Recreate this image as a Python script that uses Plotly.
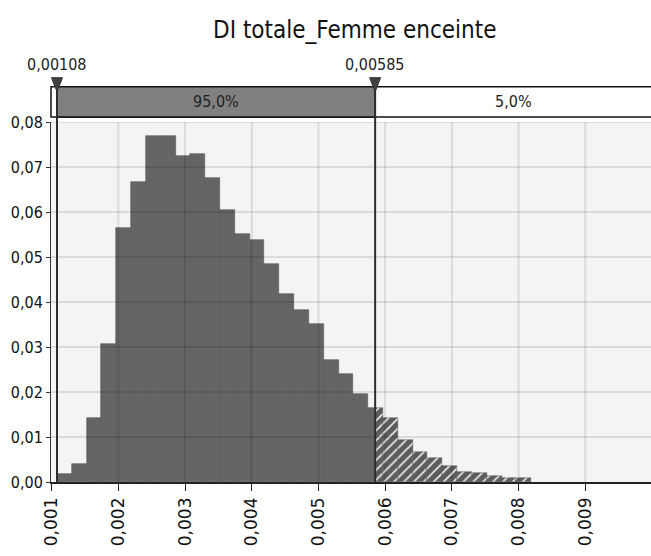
import numpy as np
import plotly.graph_objects as go

# histogram data (relative frequency per bin)
bin_min = 0.00108
bin_max = 0.00819
freq = [0.0018, 0.0040, 0.0142, 0.0307, 0.0564, 0.0667, 0.0769, 0.0769,
        0.0724, 0.0729, 0.0676, 0.0604, 0.0551, 0.0538, 0.0484, 0.0418,
        0.0382, 0.0351, 0.0271, 0.0240, 0.0196, 0.0164, 0.0142, 0.0093,
        0.0067, 0.0053, 0.0036, 0.0022, 0.0021, 0.0013, 0.0009, 0.0008]

p_low = 0.00108
p_high = 0.00585
p_low_label = "0,00108"
p_high_label = "0,00585"
band_labels = ["95,0%", "5,0%"]

x_ticks = [0.001, 0.002, 0.003, 0.004, 0.005, 0.006, 0.007, 0.008, 0.009]
y_ticks = [0.0, 0.01, 0.02, 0.03, 0.04, 0.05, 0.06, 0.07, 0.08]

x_range = [0.00099, 0.009986]
title = "DI totale_Femme enceinte"

edges = np.linspace(bin_min, bin_max, len(freq) + 1)

# split bins at the upper cut-off
sx, sw, sy, hx, hw, hy = [], [], [], [], [], []
for i, v in enumerate(freq):
    lo, hi = edges[i], edges[i + 1]
    if lo < p_high:
        r = min(hi, p_high)
        sx.append((lo + r) / 2); sw.append(r - lo); sy.append(v)
    if hi > p_high:
        l = max(lo, p_high)
        hx.append((l + hi) / 2); hw.append(hi - l); hy.append(v)

NARROW = "DejaVu Sans Condensed, sans-serif"

fig = go.Figure()
fig.add_trace(go.Bar(x=sx, y=sy, width=sw,
                     marker=dict(color="#656565", line=dict(color="#575757", width=0.6)),
                     showlegend=False, hoverinfo="skip"))
fig.add_trace(go.Bar(x=hx, y=hy, width=hw,
                     marker=dict(color="#5c5c5c", line=dict(color="#555555", width=0.5),
                                 pattern=dict(shape="/", fgcolor="white", bgcolor="#5c5c5c",
                                              size=7, solidity=0.22)),
                     showlegend=False, hoverinfo="skip"))

band_bot = 1.014
band_top = 1.098
shapes = []
# grid drawn above bars
for v in y_ticks[1:]:
    shapes.append(dict(type="line", xref="x domain", yref="y", x0=0, x1=1, y0=v, y1=v,
                       line=dict(color="rgba(0,0,0,0.1)", width=2), layer="above"))
for v in x_ticks[1:]:
    shapes.append(dict(type="line", xref="x", yref="y domain", x0=v, x1=v, y0=0, y1=1,
                       line=dict(color="rgba(0,0,0,0.1)", width=2), layer="above"))
# band
shapes.append(dict(type="rect", xref="x domain", yref="y domain", x0=0, x1=1.01,
                   y0=band_bot, y1=band_top, fillcolor="white",
                   line=dict(color="#111", width=1.5), layer="above"))
shapes.append(dict(type="rect", xref="x", yref="y domain", x0=p_low, x1=p_high,
                   y0=band_bot, y1=band_top, fillcolor="#808080",
                   line=dict(color="#111", width=1.5), layer="above"))
# cut-off lines and triangles
for p in [p_low, p_high]:
    shapes.append(dict(type="line", xref="x", yref="y domain", x0=p, x1=p,
                       y0=0, y1=band_top, line=dict(color="#2e2e2e", width=2), layer="above"))
    shapes.append(dict(type="path", xref="x", yref="y domain", xsizemode="pixel",
                       ysizemode="pixel", xanchor=p, yanchor=band_top,
                       path="M-5.5,9 L5.5,9 L0,-5 Z", fillcolor="#404040",
                       line=dict(color="#303030", width=1), layer="above"))

band_mid = (band_bot + band_top) / 2
annotations = [
    dict(text=band_labels[0], x=(p_low + p_high) / 2, xref="x", y=band_mid,
         yref="y domain", yanchor="middle", showarrow=False,
         font=dict(family=NARROW, size=16, color="#222")),
    dict(text=band_labels[1], x=(p_high + x_range[1]) / 2, xref="x", y=band_mid,
         yref="y domain", yanchor="middle", showarrow=False,
         font=dict(family=NARROW, size=16, color="#222")),
    dict(text=p_low_label, x=p_low, xref="x", y=1.16, yref="y domain", yanchor="middle",
         showarrow=False, font=dict(family=NARROW, size=16, color="#222")),
    dict(text=p_high_label, x=p_high, xref="x", y=1.16, yref="y domain", yanchor="middle",
         showarrow=False, font=dict(family=NARROW, size=16, color="#222")),
]

fig.update_layout(
    width=651, height=556,
    template="none",
    separators=", ",
    barmode="overlay", bargap=0,
    paper_bgcolor="white", plot_bgcolor="#f4f4f4",
    margin=dict(l=51, r=0, t=122, b=74, autoexpand=False),
    title=dict(text=title, x=0.545, xanchor="center", y=0.946, yanchor="middle",
               font=dict(family=NARROW, size=24, color="#111")),
    shapes=shapes, annotations=annotations,
    xaxis=dict(range=x_range, tickvals=x_ticks, tickformat=".3f", tickangle=-90,
               automargin=False,
               showgrid=False, zeroline=False, showline=True, linecolor="#222", linewidth=1.5,
               ticks="outside", ticklen=7, tickcolor="#222",
               tickfont=dict(family="DejaVu Sans", size=17, color="#111")),
    yaxis=dict(range=[0, 0.08], tickvals=y_ticks, tickformat=".2f", automargin=False,
               showgrid=False, zeroline=False, showline=True, linecolor="#333", linewidth=1,
               ticks="outside", ticklen=4, tickcolor="#333",
               tickfont=dict(family=NARROW, size=16, color="#111")),
)

fig.write_html("out.html", config={"displayModeBar": False},
               post_script="document.body.style.margin='0';document.body.style.overflow='hidden';")
